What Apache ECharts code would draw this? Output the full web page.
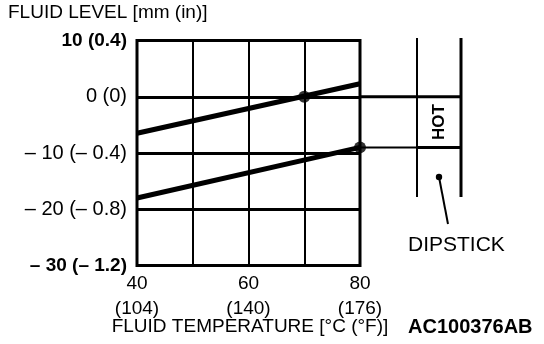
<!DOCTYPE html>
<html>
<head>
<meta charset="utf-8">
<script src="https://cdn.jsdelivr.net/npm/echarts@6/dist/echarts.min.js"></script>
<style>
  html, body { margin: 0; padding: 0; background: #fff; }
  #chart { width: 544px; height: 344px; }
</style>
</head>
<body>
<div id="chart"></div>
<script>
// Axis ticks and their printed labels (metric with imperial in brackets)
const temperatureTicks = [40, 50, 60, 70, 80];
const temperatureLabels = ['40\n(104)', '', '60\n(140)', '', '80\n(176)'];
const levelTicks = [-30, -20, -10, 0, 10];
const levelLabels = ['– 30 (– 1.2)', '– 20 (– 0.8)', '– 10 (– 0.4)', '0 (0)', '10 (0.4)'];

// Fluid level vs. temperature: upper and lower limit lines
const upperLimit = [[40, -6.5], [80, 2.3]];
const lowerLimit = [[40, -18], [80, -9]];
// Reference points where the limits meet the HOT marks
const hotPoints = [[70, 0], [80, -9]];
// HOT band on the dipstick [bottom, top] in mm
const hotBand = [-9, 0];

// Text
const yTitle = 'FLUID LEVEL [mm (in)]';
const xTitle = 'FLUID TEMPERATURE [°C (°F)]';
const dipstickText = 'DIPSTICK';
const hotText = 'HOT';
const figureId = 'AC100376AB';

const FONT = '"Liberation Sans", Arial, Helvetica, sans-serif';
const boldLevels = [10, -30];

const chart = echarts.init(document.getElementById('chart'), null, { renderer: 'canvas' });

const labelFor = (ticks, labels) => v => {
  const i = ticks.indexOf(Math.round(v));
  return i < 0 ? '' : labels[i];
};
const xLabel = labelFor(temperatureTicks, temperatureLabels);
const yLabel = labelFor(levelTicks, levelLabels);

chart.setOption({
  animation: false,
  backgroundColor: '#fff',
  grid: {
    left: 137, top: 40.5, width: 223, height: 225,
    show: true, borderColor: '#000', borderWidth: 3, backgroundColor: 'transparent'
  },
  xAxis: {
    type: 'value',
    min: temperatureTicks[0], max: temperatureTicks[temperatureTicks.length - 1],
    interval: 10,
    axisLine: { show: false },
    axisTick: { show: false },
    splitLine: { show: true, showMinLine: false, showMaxLine: false, lineStyle: { color: '#000', width: 2 } },
    axisLabel: {
      margin: 6,
      color: '#000', fontFamily: FONT, fontSize: 19, lineHeight: 25,
      formatter: xLabel
    }
  },
  yAxis: {
    type: 'value',
    min: levelTicks[0], max: levelTicks[levelTicks.length - 1],
    interval: 10,
    axisLine: { show: false },
    axisTick: { show: false },
    splitLine: { show: true, showMinLine: false, showMaxLine: false, lineStyle: { color: '#000', width: 3 } },
    axisLabel: {
      margin: 10,
      color: '#000', fontFamily: FONT, fontSize: 20,
      formatter: v => {
        const t = yLabel(v);
        return boldLevels.indexOf(Math.round(v)) >= 0 ? '{b|' + t + '}' : '{n|' + t + '}';
      },
      rich: {
        b: { fontFamily: FONT, fontSize: 19, fontWeight: 'bold', color: '#000' },
        n: { fontFamily: FONT, fontSize: 20, color: '#000' }
      }
    }
  },
  series: [
    {
      type: 'line', data: upperLimit, symbol: 'none', silent: true, z: 5,
      lineStyle: { color: '#000', width: 5, cap: 'butt' }
    },
    {
      type: 'line', data: lowerLimit, symbol: 'none', silent: true, z: 5,
      lineStyle: { color: '#000', width: 5, cap: 'butt' }
    },
    {
      type: 'scatter', data: hotPoints, symbol: 'circle', symbolSize: 12, z: 6,
      itemStyle: { color: '#000' }
    }
  ]
});

// Dipstick drawing to the right of the plot, tied to the HOT band levels
const yTop = chart.convertToPixel({ yAxisIndex: 0 }, hotBand[1]);
const yBot = chart.convertToPixel({ yAxisIndex: 0 }, hotBand[0]);
const plotRight = chart.convertToPixel({ xAxisIndex: 0 }, temperatureTicks[temperatureTicks.length - 1]);
const stickL = plotRight + 57;
const stickR = plotRight + 101;
const stickTop = 38, stickBottom = 197;
const black = { stroke: '#000' };

chart.setOption({
  graphic: [
    { type: 'line', shape: { x1: stickL, y1: stickTop, x2: stickL, y2: stickBottom }, style: Object.assign({ lineWidth: 2 }, black) },
    { type: 'line', shape: { x1: stickR, y1: stickTop, x2: stickR, y2: stickBottom }, style: Object.assign({ lineWidth: 3 }, black) },
    { type: 'line', shape: { x1: plotRight, y1: yTop, x2: stickR, y2: yTop }, style: Object.assign({ lineWidth: 3 }, black) },
    { type: 'line', shape: { x1: plotRight, y1: yBot, x2: stickL, y2: yBot }, style: Object.assign({ lineWidth: 2 }, black) },
    { type: 'line', shape: { x1: stickL, y1: yBot, x2: stickR, y2: yBot }, style: Object.assign({ lineWidth: 3 }, black) },
    {
      type: 'text', x: (stickL + stickR) / 2, y: (yTop + yBot) / 2, rotation: Math.PI / 2,
      style: { text: hotText, fill: '#000', font: 'bold 17px ' + FONT, textAlign: 'center', textVerticalAlign: 'middle' }
    },
    { type: 'circle', shape: { cx: (stickL + stickR) / 2, cy: 177, r: 3.2 }, style: { fill: '#000' } },
    { type: 'line', shape: { x1: (stickL + stickR) / 2, y1: 177, x2: 448, y2: 224 }, style: Object.assign({ lineWidth: 2 }, black) },
    {
      type: 'text', x: 408, y: 245.5,
      style: { text: dipstickText, fill: '#000', font: '21px ' + FONT, textAlign: 'left', textVerticalAlign: 'middle' }
    },
    {
      type: 'text', x: 8, y: 12.5,
      style: { text: yTitle, fill: '#000', font: '19px ' + FONT, textAlign: 'left', textVerticalAlign: 'middle' }
    },
    {
      type: 'text', x: 250, y: 327,
      style: { text: xTitle, fill: '#000', font: '19px ' + FONT, textAlign: 'center', textVerticalAlign: 'middle' }
    },
    {
      type: 'text', x: 408, y: 327.5,
      style: { text: figureId, fill: '#000', font: 'bold 20px ' + FONT, textAlign: 'left', textVerticalAlign: 'middle' }
    }
  ]
});
</script>
</body>
</html>
